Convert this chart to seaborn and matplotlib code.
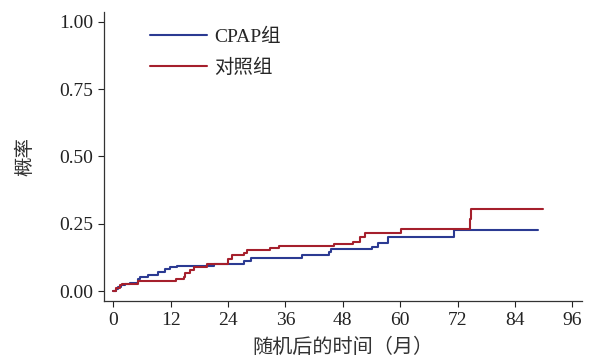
import pandas as pd
import matplotlib
matplotlib.use("Agg")
import matplotlib.pyplot as plt
import seaborn as sns

# step points (months, cumulative probability)
cpap_t = [0, 0.5, 1.0, 1.6, 2.5, 3.5, 5.1, 5.6, 7.3, 9.4, 10.8, 11.9, 13.4, 21.0,
          27.3, 28.8, 39.5, 45.2, 45.6, 54.1, 55.3, 57.4, 71.3, 88.8]
cpap_p = [0, 0.008, 0.015, 0.021, 0.027, 0.031, 0.046, 0.052, 0.058, 0.071, 0.081, 0.089, 0.093, 0.099,
          0.112, 0.124, 0.133, 0.145, 0.157, 0.165, 0.177, 0.202, 0.227, 0.227]

ctrl_t = [0, 0.5, 1.4, 1.9, 5.2, 13.2, 14.7, 15.1, 16.1, 16.8, 19.6, 24.1, 24.8, 27.3,
          27.9, 32.8, 34.6, 46.1, 50.1, 51.7, 52.7, 60.2, 74.5, 74.8, 89.8]
ctrl_p = [0, 0.011, 0.021, 0.028, 0.037, 0.045, 0.053, 0.068, 0.078, 0.088, 0.100, 0.119, 0.134, 0.142,
          0.151, 0.160, 0.167, 0.174, 0.183, 0.202, 0.214, 0.232, 0.267, 0.304, 0.304]

groups = ["CPAP组", "对照组"]
x_ticks = [0, 12, 24, 36, 48, 60, 72, 84, 96]
y_ticks = [0.00, 0.25, 0.50, 0.75, 1.00]

df = pd.concat([
    pd.DataFrame({"t": cpap_t, "p": cpap_p, "group": groups[0]}),
    pd.DataFrame({"t": ctrl_t, "p": ctrl_p, "group": groups[1]}),
], ignore_index=True)

sns.set_style("white")
plt.rcParams["font.family"] = ["Liberation Serif", "Noto Sans CJK SC"]

fig = plt.figure(figsize=(5.95, 3.61), dpi=100)
ax = fig.add_axes([0.175, 0.166, 0.803, 0.801])

sns.lineplot(data=df, x="t", y="p", hue="group", hue_order=groups,
             palette=["#2B3A92", "#A51F2C"], estimator=None, sort=False,
             drawstyle="steps-post", linewidth=1.5, ax=ax)

ax.set_xlim(-1.9, 98)
ax.set_ylim(-0.037, 1.037)
ax.set_xticks(x_ticks)
ax.set_yticks(y_ticks)
ax.set_yticklabels([f"{v:.2f}" for v in y_ticks])
ax.tick_params(axis="both", direction="out", length=4, width=0.8, labelsize=14,
               colors="#222222", left=True, bottom=True, pad=4)
for s in ["top", "right"]:
    ax.spines[s].set_visible(False)
for s in ["left", "bottom"]:
    ax.spines[s].set_color("#333333")
    ax.spines[s].set_linewidth(0.9)

ax.set_xlabel("随机后的时间（月）", fontsize=14.5, color="#333333", labelpad=7)
ax.set_ylabel("概率", fontsize=14, color="#333333", labelpad=18)

ax.legend(loc="upper left", bbox_to_anchor=(0.06, 1.005), frameon=False,
          fontsize=14, handlelength=2.9, handletextpad=0.4, labelspacing=0.65)

fig.savefig("out.png", dpi=100)
